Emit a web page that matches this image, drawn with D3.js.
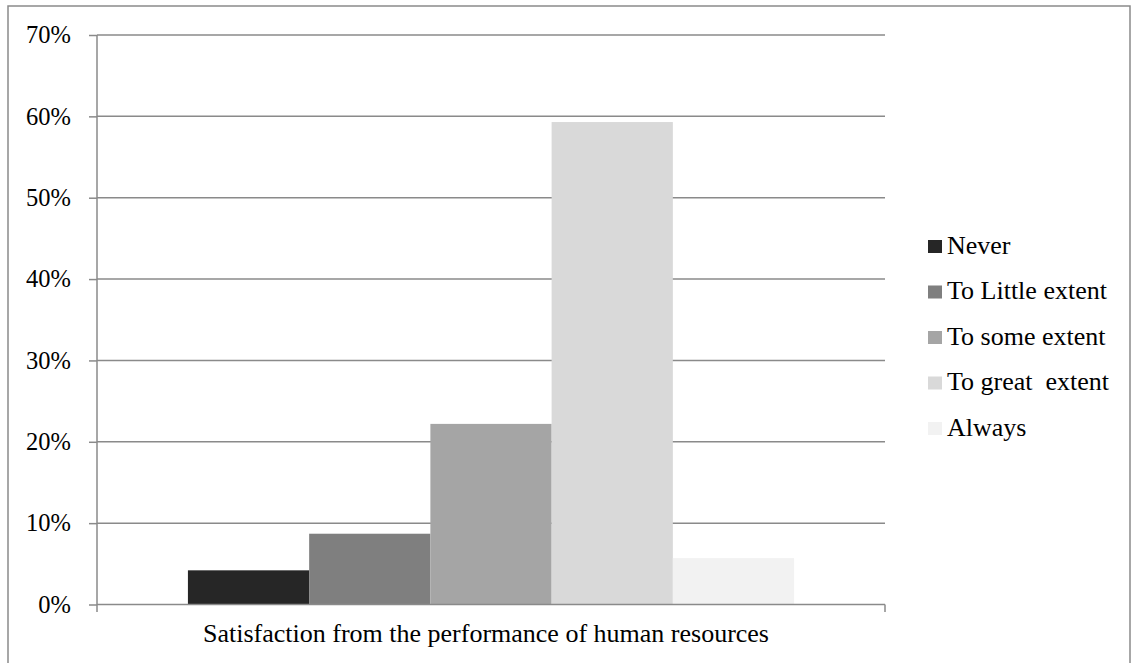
<!DOCTYPE html>
<html>
<head>
<meta charset="utf-8">
<script src="https://cdn.jsdelivr.net/npm/d3@7"></script>
</head>
<body style="margin:0;background:#fff">
<svg id="chart" width="1134" height="663" font-family="Liberation Serif"></svg>
<script>
// Survey answers for one question, share of respondents per answer
const categories = ["Satisfaction from the performance of human resources"];
const seriesNames = ["Never", "To Little extent", "To some extent", "To great  extent", "Always"];
const seriesValues = [0.042, 0.087, 0.222, 0.593, 0.057];
const seriesColors = ["#262626", "#7f7f7f", "#a5a5a5", "#d9d9d9", "#f2f2f2"];
const yTicks = [0, 0.1, 0.2, 0.3, 0.4, 0.5, 0.6, 0.7];

const FONT = "Liberation Serif";

const svg = d3.select("#chart");
const plot = { left: 97, right: 885, top: 35, bottom: 604.5 };
const gridColor = "#8a8a8a";

// outer frame
svg.append("rect")
  .attr("x", 8).attr("y", 6)
  .attr("width", 1122).attr("height", 680)
  .attr("fill", "none")
  .attr("stroke", gridColor)
  .attr("stroke-width", 1.5);

const y = d3.scaleLinear().domain([0, 0.7]).range([plot.bottom, plot.top]);
const x0 = d3.scaleBand().domain(categories).range([plot.left, plot.right]).padding(0);
const x1 = d3.scaleBand().domain(seriesNames).range([0, x0.bandwidth()])
  .paddingInner(0).paddingOuter(0.75);

// horizontal gridlines
svg.append("g")
  .selectAll("line")
  .data(yTicks.filter(d => d > 0))
  .join("line")
  .attr("x1", plot.left).attr("x2", plot.right)
  .attr("y1", d => y(d)).attr("y2", d => y(d))
  .attr("stroke", gridColor).attr("stroke-width", 1.5);

// bars
const group = svg.append("g")
  .selectAll("g")
  .data(categories)
  .join("g")
  .attr("transform", d => `translate(${x0(d)},0)`);

group.selectAll("rect")
  .data(() => seriesNames.map((s, i) => ({ s, v: seriesValues[i], c: seriesColors[i] })))
  .join("rect")
  .attr("x", d => x1(d.s))
  .attr("width", x1.bandwidth())
  .attr("y", d => y(d.v))
  .attr("height", d => y(0) - y(d.v))
  .attr("fill", d => d.c);

// y axis
const yAxis = d3.axisLeft(y)
  .tickValues(yTicks)
  .tickFormat(d3.format(".0%"))
  .tickSize(8)
  .tickPadding(18);

const ya = svg.append("g")
  .attr("transform", `translate(${plot.left},0)`)
  .call(yAxis)
  .attr("font-family", FONT)
  .attr("font-size", 24.5);
ya.select(".domain").attr("stroke", gridColor).attr("stroke-width", 1.5)
  .attr("d", `M0,${plot.top}V${plot.bottom + 7.5}`);
ya.selectAll(".tick line").attr("stroke", gridColor).attr("stroke-width", 1.5);
ya.selectAll(".tick text").attr("fill", "#000");

// x axis
const xa = svg.append("g")
  .attr("transform", `translate(0,${plot.bottom})`);
xa.append("line")
  .attr("x1", plot.left).attr("x2", plot.right)
  .attr("y1", 0).attr("y2", 0)
  .attr("stroke", gridColor).attr("stroke-width", 1.5);
xa.append("line")
  .attr("x1", plot.right).attr("x2", plot.right)
  .attr("y1", 0).attr("y2", 7.5)
  .attr("stroke", gridColor).attr("stroke-width", 1.5);
xa.selectAll("text.cat")
  .data(categories)
  .join("text")
  .attr("class", "cat")
  .attr("x", d => x0(d) + x0.bandwidth() / 2 - 5)
  .attr("y", 37.5)
  .attr("text-anchor", "middle")
  .attr("font-family", FONT)
  .attr("font-size", 26)
  .attr("fill", "#000")
  .text(d => d);

// legend
const legend = svg.append("g").attr("transform", "translate(928,240)");
const rows = legend.selectAll("g")
  .data(seriesNames)
  .join("g")
  .attr("transform", (d, i) => `translate(0,${i * 45.5})`);
rows.append("rect")
  .attr("width", 14).attr("height", 13)
  .attr("fill", (d, i) => seriesColors[i]);
rows.append("text")
  .attr("x", 19).attr("y", 13.5)
  .attr("font-family", FONT)
  .attr("font-size", 26)
  .attr("xml:space", "preserve")
  .attr("fill", "#000")
  .text(d => d);
</script>
</body>
</html>
